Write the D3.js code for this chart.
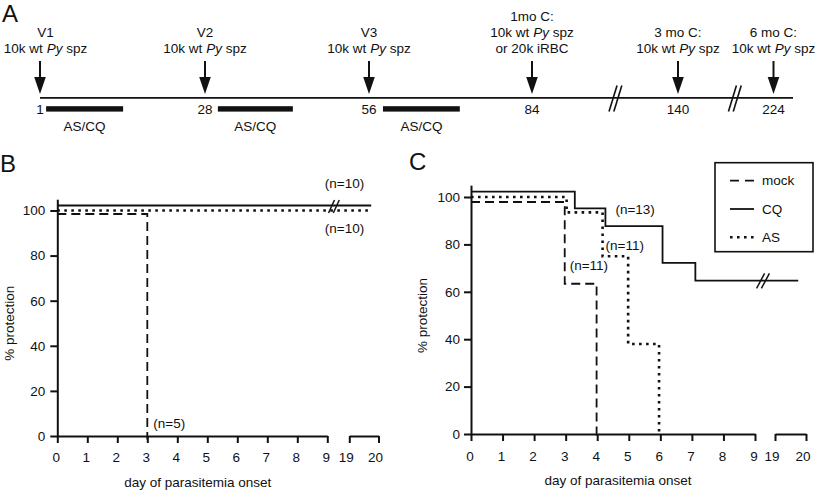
<!DOCTYPE html>
<html><head><meta charset="utf-8">
<script src="https://cdn.jsdelivr.net/npm/d3@7"></script>
<style>
html,body{margin:0;padding:0;background:#fff;}
svg{display:block;font-family:"Liberation Sans",Arial,Helvetica,sans-serif;}
</style></head><body>
<svg id="chart" width="817" height="492"></svg>
<script>
// ================= DATA =================
// Panel A: immunization / challenge timeline (days)
const timelineDays = [1, 28, 56, 84, 140, 224];
const timelineTickLabels = ["1", "28", "56", "84", "140", "224"];
const eventLabels = [
  ["V1", "10k wt *Py* spz"],
  ["V2", "10k wt *Py* spz"],
  ["V3", "10k wt *Py* spz"],
  ["1mo C:", "10k wt *Py* spz", "or 20k iRBC"],
  ["3 mo C:", "10k wt *Py* spz"],
  ["6 mo C:", "10k wt *Py* spz"]
];
const treatmentStart = [2, 30.2, 58.4];
const treatmentEnd = [14.6, 43, 71.6];
const treatmentLabel = "AS/CQ";
const timelineBreakDays = [116, 190];
const timelineEndDay = 241;

// Panels B and C: axes
const xTickValues = [0, 1, 2, 3, 4, 5, 6, 7, 8, 9];
const xBreakTickValues = [19, 20];
const yTickValues = [0, 20, 40, 60, 80, 100];
const seriesNames = ["mock", "CQ", "AS"];
const xTitle = "day of parasitemia onset";
const yTitle = "% protection";

// Panel B: % protection (Kaplan-Meier steps)
const bMockDays = [0, 3];
const bMockSurv = [100, 0];
const bCQDays = [0, 19.75];
const bCQSurv = [100, 100];
const bASDays = [0, 19.75];
const bASSurv = [100, 100];
const bAnnotations = ["(n=10)", "(n=10)", "(n=5)"];

// Panel C
const cMockDays = [0, 2.97, 3.98];
const cMockSurv = [100, 65.5, 0];
const cCQDays = [0, 3.29, 4.26, 6.07, 7.11, 19.75];
const cCQSurv = [100, 93, 85.5, 70, 62.5, 62.5];
const cASDays = [0, 3.03, 4.17, 4.98, 5.96];
const cASSurv = [100, 93.5, 75, 38, 0];
const cAnnotations = ["(n=13)", "(n=11)", "(n=11)"];

// ================= DRAWING =================
const svg = d3.select("#chart");
svg.append("rect").attr("width", 817).attr("height", 492).attr("fill", "#fff");
const FS = 13.5;
const INK = "#111";

function richText(sel, str) {
  const parts = str.split("*");
  parts.forEach((p, i) => {
    if (!p) return;
    const t = sel.append("tspan").text(p);
    if (i % 2 === 1) t.attr("font-style", "italic");
  });
}

function drawBreak(g, cx, cy, w, h, sw) {
  [-2.4, 2.4].forEach(dx => {
    g.append("line")
      .attr("x1", cx - w / 2 + dx).attr("y1", cy + h / 2)
      .attr("x2", cx + w / 2 + dx).attr("y2", cy - h / 2)
      .attr("stroke", INK).attr("stroke-width", sw);
  });
}

// ---------- Panel A ----------
const gA = svg.append("g");
gA.append("text").attr("x", 2).attr("y", 22).attr("font-size", 24).attr("fill", INK).text("A");

const tScale = d3.scaleLinear()
  .domain([...timelineDays, timelineEndDay])
  .range([40, 205, 369, 532, 678, 773.5, 793]);
const lineY = 97.8;

gA.append("line")
  .attr("x1", tScale(timelineDays[0])).attr("x2", tScale(timelineEndDay))
  .attr("y1", lineY).attr("y2", lineY)
  .attr("stroke", INK).attr("stroke-width", 1.8);

timelineBreakDays.forEach(d => drawBreak(gA, tScale(d), 98.5, 8, 26, 1.6));

timelineDays.forEach((d, i) => {
  const x = tScale(d);
  gA.append("line").attr("x1", x).attr("x2", x).attr("y1", 61).attr("y2", 80)
    .attr("stroke", INK).attr("stroke-width", 2);
  gA.append("path")
    .attr("d", `M${x - 5.8},77 L${x + 5.8},77 L${x},94 Z`).attr("fill", INK);
  const lines = eventLabels[i];
  const n = lines.length;
  const lx = i === 0 ? x + 5.5 : x;
  lines.forEach((s, j) => {
    const t = gA.append("text").attr("x", lx)
      .attr("y", 52.5 - (n - 1 - j) * 16)
      .attr("text-anchor", "middle").attr("font-size", FS).attr("fill", INK);
    richText(t, s);
  });
  gA.append("text").attr("x", x).attr("y", 114)
    .attr("text-anchor", "middle").attr("font-size", FS).attr("fill", INK)
    .text(timelineTickLabels[i]);
});

treatmentStart.forEach((s, i) => {
  const x0 = tScale(s), x1 = tScale(treatmentEnd[i]);
  gA.append("rect").attr("x", x0).attr("y", 106.2).attr("width", x1 - x0).attr("height", 5.4)
    .attr("fill", INK);
  gA.append("text").attr("x", (x0 + x1) / 2).attr("y", 130.5)
    .attr("text-anchor", "middle").attr("font-size", FS).attr("fill", INK)
    .text(treatmentLabel);
});

// ---------- Survival panels ----------
const styles = {
  mock: { dash: "9,5", width: 1.8, cap: "butt" },
  CQ: { dash: null, width: 1.8, cap: "butt" },
  AS: { dash: "2.6,4.4", width: 2.6, cap: "butt" }
};
const fmt = d3.format("d");

function drawSurvPanel(opt) {
  const g = svg.append("g");
  const x = d3.scaleLinear().domain([0, 9, 19, 20]).range(opt.xRange);
  const y = d3.scaleLinear().domain([0, 105]).range(opt.yRange);
  const x0 = x(0), yBase = y(0);

  g.append("text").attr("x", opt.letterX).attr("y", opt.letterY)
    .attr("font-size", 24).attr("fill", INK).text(opt.letter);

  // series
  const line = (off) => d3.line().x(d => x(d[0])).y(d => y(d[1]) + off).curve(d3.curveStepAfter);
  opt.series.forEach(s => {
    const st = styles[s.name];
    const pts = s.days.map((d, i) => [d, s.surv[i]]);
    const p = g.append("path").attr("d", line(s.off)(pts))
      .attr("fill", "none").attr("stroke", INK)
      .attr("stroke-width", st.width).attr("stroke-linecap", st.cap);
    if (st.dash) p.attr("stroke-dasharray", st.dash);
  });

  // axes
  const yAxis = d3.axisLeft(y).tickValues(yTickValues).tickFormat(fmt).tickSize(7).tickSizeOuter(0).tickPadding(opt.yPad);
  const gy = g.append("g").attr("transform", `translate(${x0},0)`).call(yAxis);
  const xs1 = d3.scaleLinear().domain([0, 9]).range([x(0), x(9)]);
  const xs2 = d3.scaleLinear().domain([19, 20]).range([x(19), x(20)]);
  const gx1 = g.append("g").attr("transform", `translate(0,${yBase})`)
    .call(d3.axisBottom(xs1).tickValues(xTickValues).tickFormat(fmt).tickSize(7).tickSizeOuter(0).tickPadding(opt.xPad));
  const gx2 = g.append("g").attr("transform", `translate(0,${yBase})`)
    .call(d3.axisBottom(xs2).tickValues(xBreakTickValues).tickFormat(fmt).tickSize(7).tickSizeOuter(0).tickPadding(opt.xPad));
  gx1.selectAll("text").attr("dx", -1.5);
  gx2.selectAll("text").attr("dx", -3.5);
  [gy, gx1, gx2].forEach(a => {
    a.selectAll("path,line").attr("stroke", INK).attr("stroke-width", 2);
    a.selectAll("text").attr("font-size", FS).attr("fill", INK)
      .attr("font-family", '"Liberation Sans",Arial,sans-serif');
  });

  // titles
  const gapMid = (x(9) + x(19)) / 2;
  g.append("text").attr("x", (x0 + gapMid) / 2).attr("y", opt.xTitleY)
    .attr("text-anchor", "middle").attr("font-size", FS).attr("fill", INK).text(xTitle);
  const yc = (y(0) + y(100)) / 2;
  g.append("text").attr("transform", `translate(${opt.yTitleX},${yc}) rotate(-90)`)
    .attr("text-anchor", "middle").attr("font-size", FS).attr("fill", INK).text(yTitle);

  // break mark on the long line
  drawBreak(g, x(opt.breakDay), y(opt.breakVal) + opt.breakOff, opt.breakW, opt.breakH, 1.5);

  // annotations
  opt.notes.forEach(n => {
    g.append("text").attr("x", x(n.day) + n.dx).attr("y", y(n.val) + n.dy)
      .attr("text-anchor", n.anchor || "start").attr("font-size", FS).attr("fill", INK).text(n.text);
  });
  return { g, x, y };
}

drawSurvPanel({
  letter: "B", letterX: 0, letterY: 172,
  xRange: [57.3, 327.3, 349.3, 378.5], yRange: [436, 199.2],
  yPad: 5, xPad: 9, xTitleY: 487, yTitleX: 14,
  series: [
    { name: "CQ", days: bCQDays, surv: bCQSurv, off: -5 },
    { name: "AS", days: bASDays, surv: bASSurv, off: 0 },
    { name: "mock", days: bMockDays, surv: bMockSurv, off: 3.5 }
  ],
  breakDay: 12, breakVal: 100, breakOff: -4, breakW: 6, breakH: 13,
  notes: [
    { text: bAnnotations[0], day: 16.8, val: 100, dx: 0, dy: -22, anchor: "middle" },
    { text: bAnnotations[1], day: 16.8, val: 100, dx: 0, dy: 23, anchor: "middle" },
    { text: bAnnotations[2], day: 3, val: 0, dx: 6, dy: -8 }
  ]
});

drawSurvPanel({
  letter: "C", letterX: 409, letterY: 170,
  xRange: [471, 755, 775, 806], yRange: [434, 185.15],
  yPad: 4, xPad: 10, xTitleY: 485, yTitleX: 427,
  series: [
    { name: "CQ", days: cCQDays, surv: cCQSurv, off: -5.3 },
    { name: "AS", days: cASDays, surv: cASSurv, off: 0 },
    { name: "mock", days: cMockDays, surv: cMockSurv, off: 5 }
  ],
  breakDay: 13, breakVal: 62.5, breakOff: -5, breakW: 8, breakH: 15,
  notes: [
    { text: cAnnotations[0], day: 4.26, val: 85.5, dx: 10, dy: -17 },
    { text: cAnnotations[1], day: 4.17, val: 75, dx: 3, dy: -6 },
    { text: cAnnotations[2], day: 2.97, val: 65.5, dx: 5, dy: -9 }
  ]
});

// legend for panel C
const gL = svg.append("g");
gL.append("rect").attr("x", 715).attr("y", 162.7).attr("width", 98).attr("height", 89)
  .attr("fill", "#fff").attr("stroke", INK).attr("stroke-width", 1.6);
seriesNames.forEach((name, i) => {
  const yy = 180.7 + i * 28.3;
  const st = styles[name];
  const l = gL.append("line").attr("x1", 730).attr("x2", 754).attr("y1", yy).attr("y2", yy)
    .attr("stroke", INK).attr("stroke-width", st.width);
  if (st.dash) l.attr("stroke-dasharray", name === "mock" ? "9,6" : st.dash);
  gL.append("text").attr("x", 762).attr("y", yy + 4.6).attr("font-size", FS).attr("fill", INK).text(name);
});
</script>
</body></html>
